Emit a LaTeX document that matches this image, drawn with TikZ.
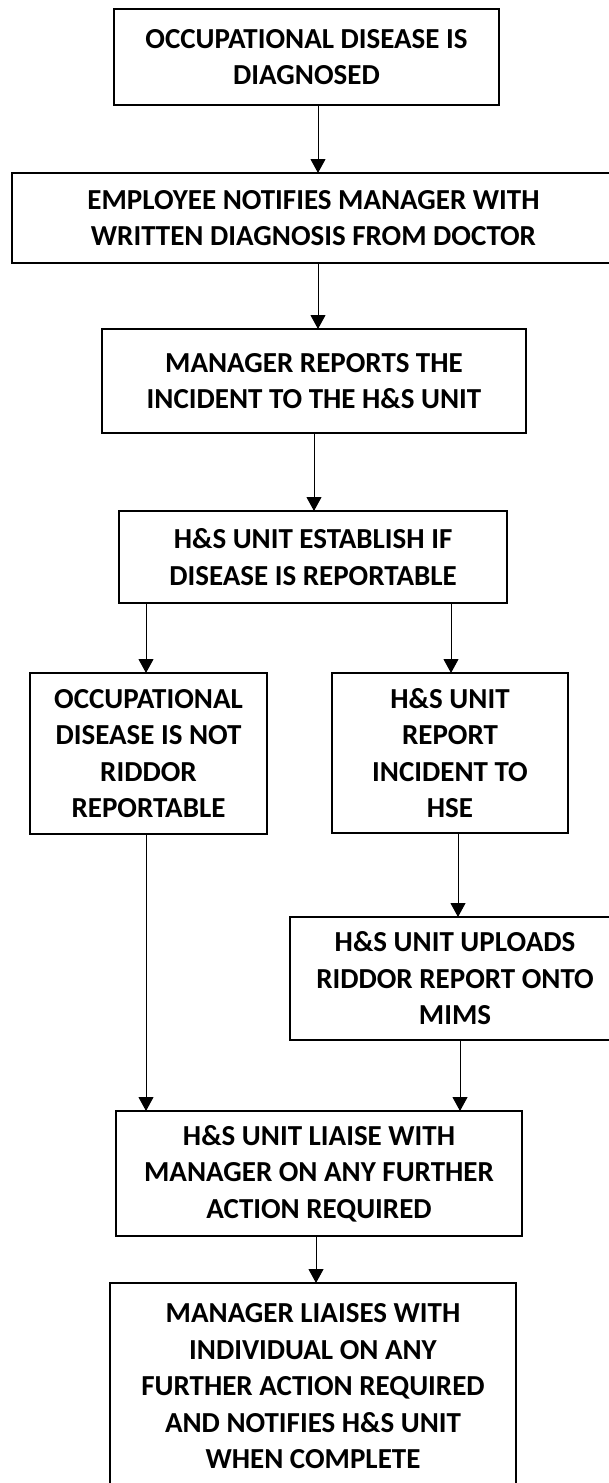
\documentclass[tikz,border=0pt]{standalone}
\usepackage{fontspec}
\setmainfont{Carlito}
\usetikzlibrary{arrows.meta}

\tikzset{
  flowbox/.style={draw=black, line width=1.4pt, fill=white, anchor=north west,
    inner sep=0pt, outer sep=0pt, align=center,
    font=\bfseries\fontsize{29}{36.5}\selectfont},
  flowarrow/.style={draw=black, line width=1pt,
    -{Triangle[length=14pt,width=15pt]}}
}

\begin{document}
\begin{tikzpicture}[x=1pt, y=-1pt]
  \useasboundingbox (0,0) rectangle (608,1483);
  \fill[white] (0,0) rectangle (608,1483);

  % process steps
  \node[flowbox, minimum width=385pt, minimum height=96pt] (b1) at (114,9)
    {OCCUPATIONAL DISEASE IS\\DIAGNOSED};
  \node[flowbox, minimum width=603pt, minimum height=90pt] (b2) at (12,173)
    {EMPLOYEE NOTIFIES MANAGER WITH\\WRITTEN DIAGNOSIS FROM DOCTOR};
  \node[flowbox, minimum width=424pt, minimum height=104pt] (b3) at (102,329)
    {MANAGER REPORTS THE\\INCIDENT TO THE H\&S UNIT};
  \node[flowbox, minimum width=388pt, minimum height=92pt] (b4) at (119,511)
    {H\&S UNIT ESTABLISH IF\\DISEASE IS REPORTABLE};

  % the two outcomes
  \node[flowbox, minimum width=237pt, minimum height=161pt] (b5) at (30,673)
    {OCCUPATIONAL\\DISEASE IS NOT\\RIDDOR\\REPORTABLE};
  \node[flowbox, minimum width=236pt, minimum height=160pt] (b6) at (332,673)
    {H\&S UNIT\\REPORT\\INCIDENT TO\\HSE};
  \node[flowbox, minimum width=330pt, minimum height=123pt] (b7) at (290,917)
    {H\&S UNIT UPLOADS\\RIDDOR REPORT ONTO\\MIMS};

  % follow-up
  \node[flowbox, minimum width=406pt, minimum height=125pt] (b8) at (116,1111)
    {H\&S UNIT LIAISE WITH\\MANAGER ON ANY FURTHER\\ACTION REQUIRED};
  \node[flowbox, minimum width=406pt, minimum height=207pt] (b9) at (110,1283)
    {MANAGER LIAISES WITH\\INDIVIDUAL ON ANY\\FURTHER ACTION REQUIRED\\AND NOTIFIES H\&S UNIT\\WHEN COMPLETE};

  % connectors
  \draw[flowarrow] ([xshift=11.5pt]b1.south) -- ([xshift=11.5pt]b1.south |- b2.north);
  \draw[flowarrow] ([xshift=4.5pt]b2.south) -- ([xshift=4.5pt]b2.south |- b3.north);
  \draw[flowarrow] (b3.south) -- (b3.south |- b4.north);
  \draw[flowarrow] ([xshift=-167pt]b4.south) -- ([xshift=-167pt]b4.south |- b5.north);
  \draw[flowarrow] ([xshift=138pt]b4.south) -- ([xshift=138pt]b4.south |- b6.north);
  \draw[flowarrow] ([xshift=8pt]b6.south) -- ([xshift=8pt]b6.south |- b7.north);
  \draw[flowarrow] ([xshift=-2.5pt]b5.south) -- ([xshift=-2.5pt]b5.south |- b8.north);
  \draw[flowarrow] ([xshift=5pt]b7.south) -- ([xshift=5pt]b7.south |- b8.north);
  \draw[flowarrow] ([xshift=-3pt]b8.south) -- ([xshift=-3pt]b8.south |- b9.north);
\end{tikzpicture}
\end{document}
